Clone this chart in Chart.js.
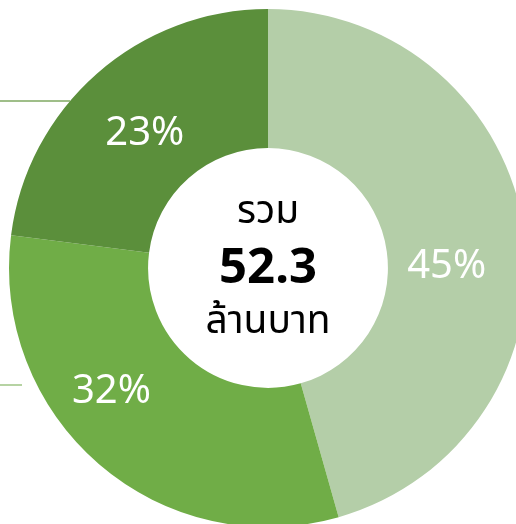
<!DOCTYPE html>
<html>
<head>
<meta charset="utf-8">
<script src="https://cdn.jsdelivr.net/npm/chart.js@4/dist/chart.umd.min.js"></script>
<style>
  html, body { margin: 0; padding: 0; background: #fff; overflow: hidden; }
  #wrap { position: absolute; left: 0; top: 0; width: 536px; height: 536px; }
</style>
</head>
<body>
<div id="wrap"><canvas id="donut" width="536" height="536"></canvas></div>
<script>
// slice sizes (million baht), clockwise from 12 o'clock
const categories = ['A', 'B', 'C'];
const values = [23.85, 16.43, 12.02];
const pctLabels = ['45%', '32%', '23%'];
const sliceColors = ['#b4cea8', '#70ad47', '#5b8f3b'];
const totalLabel = ['รวม', '52.3', 'ล้านบาท'];

// nudges of the percent labels from the slice middle (px)
const labelNudge = [[-9, 25], [-33, -20], [2, 8]];

const FONT = '"Noto Sans", "Noto Sans Thai", sans-serif';

const overlay = {
  id: 'overlay',
  afterDatasetsDraw(chart) {
    const ctx = chart.ctx;
    const meta = chart.getDatasetMeta(0);
    const arc0 = meta.data[0];
    const cx = arc0.x, cy = arc0.y;
    const R = arc0.outerRadius;

    // leader lines coming in from the left
    ctx.save();
    ctx.lineWidth = 1.3;
    ctx.strokeStyle = '#7fa862';
    ctx.beginPath();
    ctx.moveTo(0, cy - 167);
    ctx.lineTo(cx - Math.sqrt(R * R - 167 * 167), cy - 167);
    ctx.stroke();
    ctx.strokeStyle = '#8fbb72';
    ctx.beginPath();
    ctx.moveTo(0, cy + 117);
    ctx.lineTo(22, cy + 117);
    ctx.stroke();
    ctx.restore();

    // percent labels
    ctx.save();
    ctx.fillStyle = '#ffffff';
    ctx.font = '400 40px ' + FONT;
    ctx.textAlign = 'center';
    ctx.textBaseline = 'middle';
    meta.data.forEach((arc, i) => {
      const mid = (arc.startAngle + arc.endAngle) / 2;
      const r = (arc.innerRadius + arc.outerRadius) / 2;
      const x = arc.x + Math.cos(mid) * r + labelNudge[i][0];
      const y = arc.y + Math.sin(mid) * r + labelNudge[i][1];
      ctx.fillText(pctLabels[i], x, y);
    });
    ctx.restore();

    // centre text
    ctx.save();
    ctx.fillStyle = '#000000';
    ctx.textAlign = 'center';
    ctx.textBaseline = 'alphabetic';
    ctx.font = '400 39px ' + FONT;
    ctx.fillText(totalLabel[0], cx, cy - 45);
    ctx.font = '700 49px ' + FONT;
    ctx.fillText(totalLabel[1], cx, cy + 15);
    ctx.font = '400 39px ' + FONT;
    ctx.fillText(totalLabel[2], cx, cy + 65);
    ctx.restore();
  }
};

new Chart(document.getElementById('donut').getContext('2d'), {
  type: 'doughnut',
  data: {
    labels: categories,
    datasets: [
      {
        data: values,
        backgroundColor: sliceColors,
        borderWidth: 0,
      },
    ],
  },
  options: {
    responsive: false,
    animation: false,
    cutout: '46.3%',
    layout: { padding: 9 },
    plugins: {
      legend: { display: false },
      tooltip: { enabled: false },
    },
  },
  plugins: [overlay],
});
</script>
</body>
</html>
